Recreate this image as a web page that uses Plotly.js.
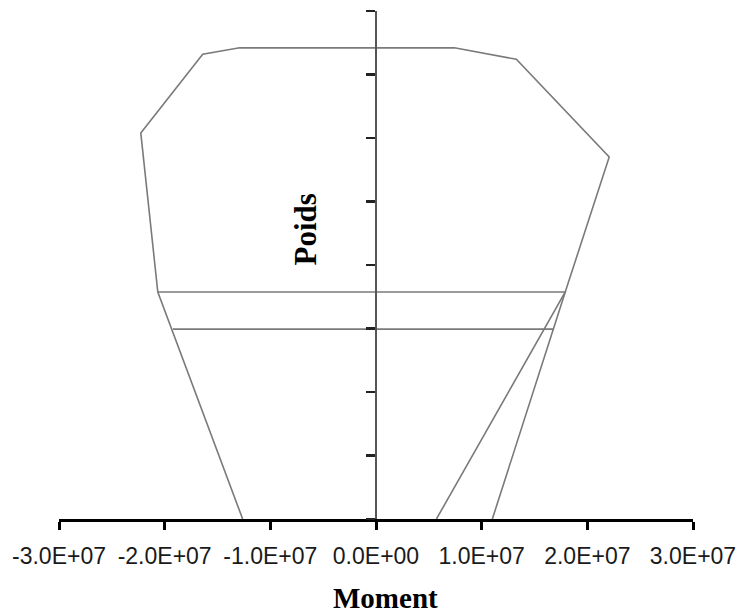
<!DOCTYPE html>
<html>
<head>
<meta charset="utf-8">
<script src="https://cdn.plot.ly/plotly-3.0.1.min.js"></script>
<style>
  html, body { margin: 0; padding: 0; background: #ffffff; }
  #chart { width: 741px; height: 614px; }
</style>
</head>
<body>
<div id="chart"></div>
<script>
// Interaction diagram: Poids (axial load) versus Moment
// Outer envelope, from the bottom-left point around to the bottom-right
var envelopeMoment = [-1.262e7, -2.065e7, -2.226e7, -1.640e7, -1.290e7, 0.742e7, 1.328e7, 2.207e7, 1.791e7, 0.572e7];
var envelopePoids  = [0, 3.575e6, 6.08e6, 7.32e6, 7.42e6, 7.42e6, 7.24e6, 5.70e6, 3.575e6, 0];

// Upper horizontal branch and its descending leg
var branchMoment = [-2.065e7, 1.791e7, 1.101e7];
var branchPoids  = [3.575e6, 3.575e6, 0];

// Lower horizontal branch
var lowerMoment = [-1.923e7, 1.678e7];
var lowerPoids  = [2.99e6, 2.99e6];

// Axis tick values and labels
var xTickValues = [-3e7, -2e7, -1e7, 0, 1e7, 2e7, 3e7];
var xTickLabels = ['-3.0E+07', '-2.0E+07', '-1.0E+07', '0.0E+00', '1.0E+07', '2.0E+07', '3.0E+07'];
var yTickValues = [0, 1e6, 2e6, 3e6, 4e6, 5e6, 6e6, 7e6, 8e6];

var lineStyle = { color: '#7a7a7a', width: 1.6 };

var traces = [
  { x: envelopeMoment, y: envelopePoids, mode: 'lines', line: lineStyle, hoverinfo: 'skip' },
  { x: branchMoment, y: branchPoids, mode: 'lines', line: lineStyle, hoverinfo: 'skip' },
  { x: lowerMoment, y: lowerPoids, mode: 'lines', line: lineStyle, hoverinfo: 'skip' }
];

var layout = {
  width: 741,
  height: 614,
  margin: { l: 59, r: 48, t: 11, b: 95 },
  paper_bgcolor: '#ffffff',
  plot_bgcolor: '#ffffff',
  showlegend: false,
  xaxis: {
    range: [-3e7, 3e7],
    tickmode: 'array',
    tickvals: xTickValues,
    ticktext: xTickLabels,
    ticks: 'outside',
    ticklen: 8,
    tickwidth: 3,
    tickcolor: '#000000',
    showline: true,
    linecolor: '#000000',
    linewidth: 3,
    showgrid: false,
    zeroline: false,
    ticklabelstandoff: 6,
    tickfont: { family: 'Liberation Sans, Arial, sans-serif', size: 23, color: '#1a1a1a' },
    fixedrange: true
  },
  yaxis: {
    range: [0, 8e6],
    tickmode: 'array',
    tickvals: yTickValues,
    showticklabels: false,
    ticks: 'outside',
    ticklen: 9,
    tickwidth: 2.5,
    tickcolor: '#222222',
    showline: true,
    linecolor: '#555555',
    linewidth: 2,
    showgrid: false,
    zeroline: false,
    anchor: 'free',
    position: 0.5,
    fixedrange: true
  },
  annotations: [
    {
      text: 'Moment',
      x: 0.515, y: -(598 - 519) / (519 - 11), xref: 'paper', yref: 'paper',
      xanchor: 'center', yanchor: 'middle',
      showarrow: false,
      font: { family: 'Liberation Serif, Times New Roman, serif', size: 29, color: '#000000', weight: 'bold' }
    },
    {
      text: 'Poids',
      x: 0, y: 0.57, xref: 'x', yref: 'paper',
      xanchor: 'center', yanchor: 'middle',
      xshift: -71,
      textangle: -90,
      showarrow: false,
      font: { family: 'Liberation Serif, Times New Roman, serif', size: 31, color: '#000000', weight: 'bold' }
    }
  ]
};

Plotly.newPlot('chart', traces, layout, { displayModeBar: false, staticPlot: true });
</script>
</body>
</html>
